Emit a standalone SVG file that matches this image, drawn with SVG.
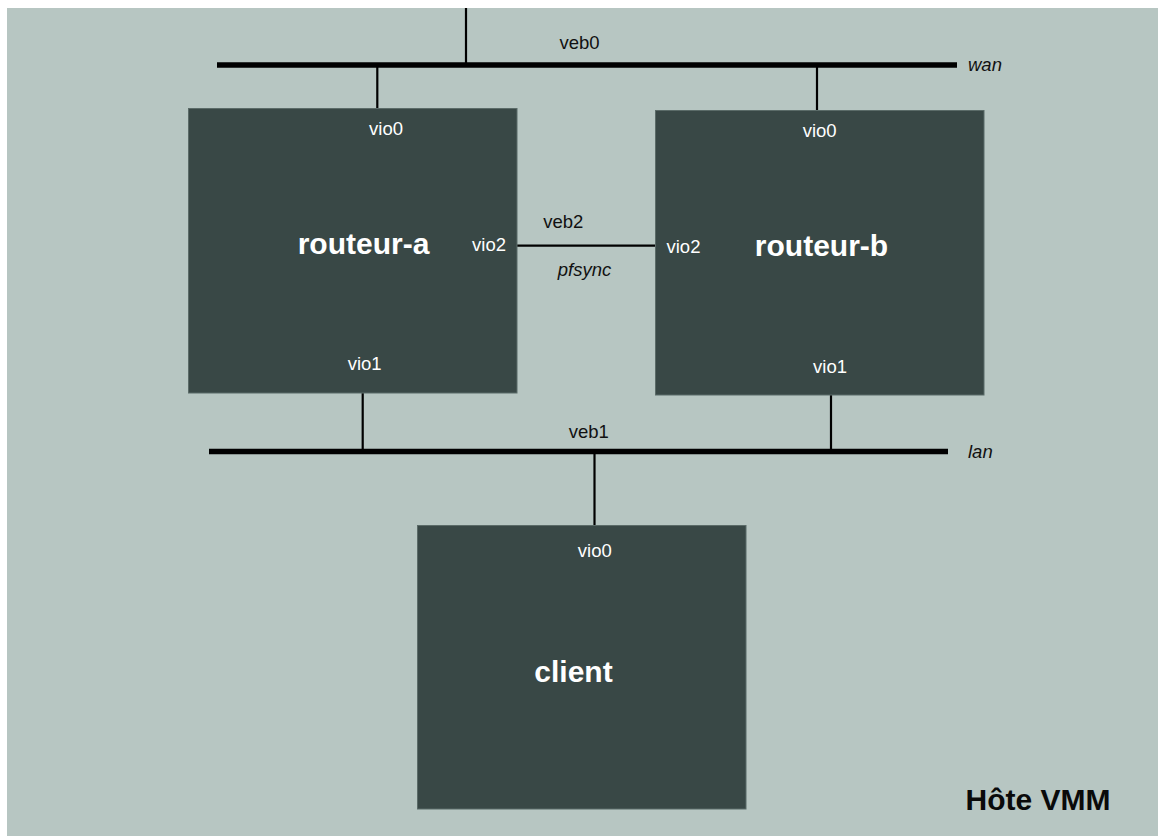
<svg xmlns="http://www.w3.org/2000/svg" width="1158" height="836" viewBox="0 0 1158 836">
  <style>
    .bg { fill: #b7c6c2; }
    .vm { fill: #394846; stroke: #5b6b68; stroke-width: 1; }
    .bus { stroke: #000; stroke-width: 5.5; fill: none; }
    .link { stroke: #000; stroke-width: 2.2; fill: none; }
    .name { font-family: "Liberation Sans", Arial, sans-serif; font-weight: bold; font-size: 30px; fill: #ffffff; text-anchor: middle; }
    .port { font-family: "Liberation Sans", Arial, sans-serif; font-size: 18.5px; fill: #ffffff; }
    .net { font-family: "Liberation Sans", Arial, sans-serif; font-size: 18.5px; fill: #111111; }
    .it { font-style: italic; }
    .host { font-family: "Liberation Sans", Arial, sans-serif; font-weight: bold; font-size: 30px; fill: #0a0a0a; }
  </style>

  <rect x="0" y="0" width="1158" height="836" fill="#ffffff"/>
  <rect class="bg" x="7" y="8" width="1151" height="828"/>

  <!-- virtual switches and links -->
  <g id="connectors">
    <line class="link" x1="466" y1="8" x2="466" y2="65"/>
    <line class="bus" x1="217" y1="65" x2="957" y2="65"/>
    <line class="link" x1="377.3" y1="65" x2="377.3" y2="108"/>
    <line class="link" x1="817" y1="65" x2="817" y2="110"/>
    <line class="link" x1="517" y1="245.7" x2="655" y2="245.7"/>
    <line class="bus" x1="209" y1="451.5" x2="948" y2="451.5"/>
    <line class="link" x1="362.7" y1="393" x2="362.7" y2="451.5"/>
    <line class="link" x1="831" y1="395" x2="831" y2="451.5"/>
    <line class="link" x1="594.5" y1="451.5" x2="594.5" y2="525"/>
    <text class="net" x="579.5" y="48.5" text-anchor="middle">veb0</text>
    <text class="net it" x="968" y="70.7">wan</text>
    <text class="net" x="563.3" y="228.3" text-anchor="middle">veb2</text>
    <text class="net it" x="584.5" y="276.3" text-anchor="middle">pfsync</text>
    <text class="net" x="588.8" y="437.5" text-anchor="middle">veb1</text>
    <text class="net it" x="968" y="457.5">lan</text>
  </g>

  <g id="routeur-a">
    <rect class="vm" x="188.5" y="108.5" width="328.5" height="284.5"/>
    <text class="port" x="386" y="134.5" text-anchor="middle">vio0</text>
    <text class="port" x="506" y="251" text-anchor="end">vio2</text>
    <text class="port" x="364.7" y="370" text-anchor="middle">vio1</text>
    <text class="name" x="363.5" y="254">routeur-a</text>
  </g>

  <g id="routeur-b">
    <rect class="vm" x="655.5" y="110.5" width="328.5" height="284.5"/>
    <text class="port" x="819.7" y="136.7" text-anchor="middle">vio0</text>
    <text class="port" x="666.5" y="252.5">vio2</text>
    <text class="port" x="830" y="373" text-anchor="middle">vio1</text>
    <text class="name" x="821.5" y="255.7">routeur-b</text>
  </g>

  <g id="client">
    <rect class="vm" x="417.5" y="525.5" width="328.5" height="283.5"/>
    <text class="port" x="594.8" y="556.7" text-anchor="middle">vio0</text>
    <text class="name" x="573.5" y="682">client</text>
  </g>

  <g id="host">
    <text class="host" x="965.5" y="810">Hôte VMM</text>
  </g>
</svg>
